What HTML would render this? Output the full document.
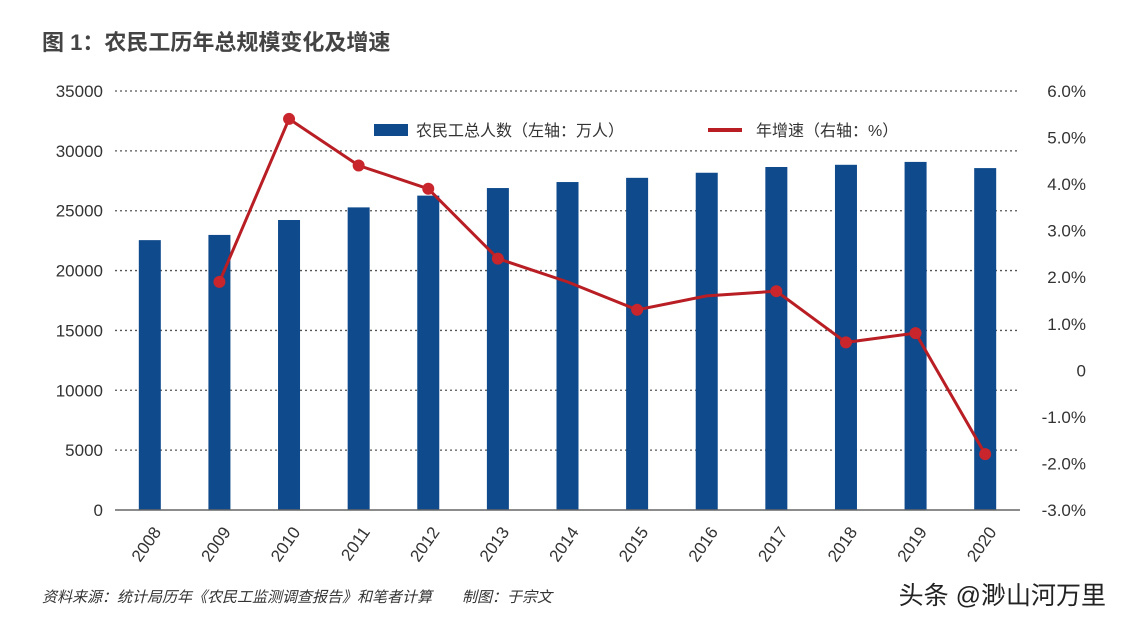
<!DOCTYPE html>
<html><head><meta charset="utf-8">
<style>
body{margin:0;width:1124px;height:628px;background:#fff;overflow:hidden;font-family:"Liberation Sans","Noto Sans CJK SC",sans-serif;}
svg text{font-family:"Liberation Sans","Noto Sans CJK SC",sans-serif;}
</style></head>
<body>
<svg id="chart" width="1124" height="628">
<text x="42" y="50" font-size="22" font-weight="bold" fill="#444">图 1：农民工历年总规模变化及增速</text>
<g id="grid"></g><g id="bars"></g><g id="line"></g><g id="axes"></g>
<g>
<rect x="374" y="124" width="34" height="12" fill="#0e4a8c"/>
<text x="416" y="136" font-size="16" fill="#333">农民工总人数（左轴：万人）</text>
<line x1="708" y1="130" x2="742" y2="130" stroke="#b81e24" stroke-width="4"/>
<text x="756" y="136" font-size="16" fill="#333">年增速（右轴：%）</text>
</g>
<text x="42" y="602" font-size="15" fill="#333" font-style="italic">资料来源：统计局历年《农民工监测调查报告》和笔者计算　　制图：于宗文</text>
<text x="1106" y="604" font-size="25" fill="#222" text-anchor="end">头条 @渺山河万里</text>
</svg>
<script>
const years=["2008","2009","2010","2011","2012","2013","2014","2015","2016","2017","2018","2019","2020"];
const workers=[22542,22978,24223,25278,26261,26894,27395,27747,28171,28652,28836,29077,28560];
const growth=[null,1.9,5.4,4.4,3.9,2.4,1.9,1.3,1.6,1.7,0.6,0.8,-1.8];
const markerShown=[false,true,true,true,true,true,false,true,false,true,true,true,true];
const leftTicks=[0,5000,10000,15000,20000,25000,30000,35000];
const rightTicks=["-3.0%","-2.0%","-1.0%","0","1.0%","2.0%","3.0%","4.0%","5.0%","6.0%"];
const NS="http://www.w3.org/2000/svg";
const x0=115,x1=1020,yTop=91,yBot=510;
const step=(x1-x0)/years.length;
const xc=i=>x0+step*(i+0.5);
const yL=v=>yBot-(v/35000)*(yBot-yTop);
const yR=v=>yBot-((v+3)/9)*(yBot-yTop);
function mk(tag,attrs,parent){const e=document.createElementNS(NS,tag);for(const k in attrs)e.setAttribute(k,attrs[k]);document.getElementById(parent).appendChild(e);return e;}
leftTicks.forEach((t,i)=>{
  if(t>0){const g=mk('line',{x1:x0,x2:x1,y1:yL(t),y2:yL(t),stroke:'#555','stroke-width':1.3,'stroke-dasharray':'2 3'},'grid');
  
  }
  const tx=mk('text',{x:103,y:yL(t)+6,'font-size':17,fill:'#333','text-anchor':'end'},'axes');tx.textContent=t;
  
  
});
rightTicks.forEach((t,i)=>{
  const y=yBot-i*(yBot-yTop)/9;
  const tx=mk('text',{x:1086,y:y+6,'font-size':17,fill:'#333','text-anchor':'end'},'axes');tx.textContent=t;
  
  
});
const ax=mk('line',{x1:x0,x2:x1,y1:yBot,y2:yBot,stroke:'#666','stroke-width':1.5},'axes');


years.forEach((yr,i)=>{
  const b=mk('rect',{x:xc(i)-11,y:yL(workers[i]),width:22,height:yBot-yL(workers[i]),fill:'#0e4a8c'},'bars');
  
  
  const tx=mk('text',{x:0,y:0,'font-size':17,fill:'#333','text-anchor':'end',transform:`translate(${xc(i)+12},${yBot+22}) rotate(-55)`},'axes');tx.textContent=yr;
  
  
});
let pts=[];growth.forEach((g,i)=>{if(g!==null)pts.push([xc(i),yR(g)]);});
const pl=mk('polyline',{points:pts.map(p=>p.join(',')).join(' '),fill:'none',stroke:'#b81e24','stroke-width':3},'line');


growth.forEach((g,i)=>{if(g!==null&&markerShown[i]){
  const c=mk('circle',{cx:xc(i),cy:yR(g),r:6,fill:'#c8262c'},'line');
  
  
}});
</script>
</body></html>
